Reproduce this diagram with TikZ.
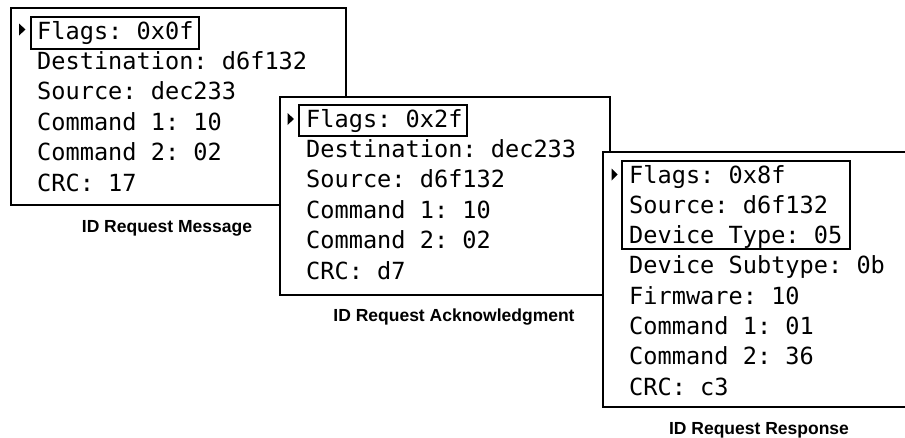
\documentclass[tikz,border=0pt]{standalone}
\usepackage{fontspec}
\setmonofont{DejaVu Sans Mono}
\setsansfont{Liberation Sans}
\begin{document}
\begin{tikzpicture}[x=1pt,y=-1pt,line join=miter,
	msg/.style={draw,line width=2pt,fill=white,anchor=north west,inner sep=0pt},
	field/.style={anchor=base west,inner sep=0pt,font=\fontsize{23.6}{28}\selectfont\ttfamily},
	caption/.style={anchor=base,inner sep=0pt,font=\fontsize{17.5}{20}\selectfont\sffamily\bfseries},
	flagframe/.style={draw,line width=1.5pt}]
	\useasboundingbox (0,0) rectangle (905,437);
	% request
	\node[msg,minimum width=335pt,minimum height=197pt] (req) at (10,7) {};
	\foreach \t [count=\i] in {Flags: 0x0f,Destination: d6f132,Source: dec233,Command 1: 10,Command 2: 02,CRC: 17}
		\node[field] (req\i) at (37,{39+30.4*(\i-1)}) {\t};
	\draw[flagframe] (31,17) rectangle (199,49);
	\fill (19,23.5)--(25.5,29.5)--(19,35.5)--cycle;
	\node[caption] (reqcap) at (167,232) {ID Request Message};
	% acknowledgment
	\node[msg,minimum width=330pt,minimum height=198pt] (ack) at (279,96) {};
	\foreach \t [count=\i] in {Flags: 0x2f,Destination: dec233,Source: d6f132,Command 1: 10,Command 2: 02,CRC: d7}
		\node[field] (ack\i) at (306,{127+30.4*(\i-1)}) {\t};
	\draw[flagframe] (299,105) rectangle (467,136);
	\fill (287.5,113)--(294,119)--(287.5,125)--cycle;
	\node[caption] (ackcap) at (454,321) {ID Request Acknowledgment};
	% response
	\node[msg,minimum width=308pt,minimum height=255pt] (resp) at (602,151) {};
	\foreach \t [count=\i] in {Flags: 0x8f,Source: d6f132,Device Type: 05,Device Subtype: 0b,Firmware: 10,Command 1: 01,Command 2: 36,CRC: c3}
		\node[field] (resp\i) at (629,{183+30.3*(\i-1)}) {\t};
	\draw[flagframe] (622,161) rectangle (850,249);
	\fill (611.5,168.5)--(617.5,174.5)--(611.5,180.5)--cycle;
	\node[caption] (respcap) at (759,434) {ID Request Response};
\end{tikzpicture}
\end{document}
